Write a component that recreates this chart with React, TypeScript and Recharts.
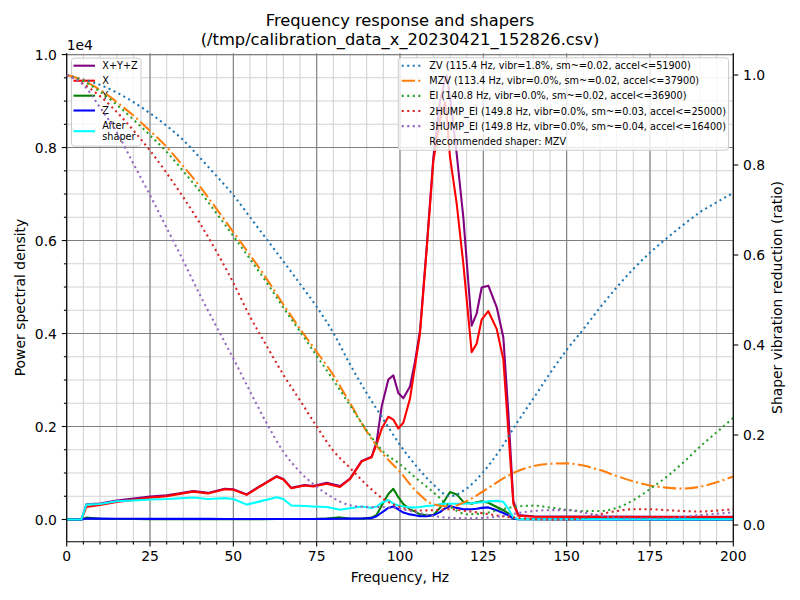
import React from 'react';
import { LineChart, Line, XAxis, YAxis, CartesianGrid } from 'recharts';

const FONT = '"DejaVu Sans", "Liberation Sans", sans-serif';

// ---------- PSD data (left axis, raw units; axis shows x1e4) ----------
const psdFreqs = [
  0, 4.4, 5.9, 10, 15, 20, 25, 30, 33, 38,
  42.4, 47.4, 50, 54, 58, 63, 65, 67.4, 71.4, 74,
  78, 82, 85, 88.5, 91.5, 93, 94.5, 96.5, 98, 99.5,
  101, 103, 104.5, 106, 108, 110, 112, 113.5, 114, 115,
  117, 119, 121.5, 123, 124.5, 126.5, 129, 131, 132.5, 134,
  135.5, 140, 160, 180, 200,
];
const psdXYZ = [
  0, 0, 325, 345, 410, 450, 495, 520, 555, 612,
  572, 662, 652, 540, 720, 930, 870, 680, 740, 720,
  790, 720, 880, 1260, 1350, 1680, 2430, 3010, 3100, 2720,
  2610, 2860, 3400, 4060, 5850, 7780, 9000, 9450, 9550, 9100,
  7870, 6500, 4170, 4430, 4990, 5030, 4570, 3920, 2300, 400,
  95, 70, 62, 58, 56,
];
const psdX = [
  0, 0, 270, 310, 375, 420, 470, 500, 540, 600,
  560, 650, 640, 530, 710, 920, 860, 670, 730, 710,
  770, 700, 870, 1250, 1340, 1620, 1950, 2210, 2150, 1960,
  2080, 2600, 3300, 4000, 5800, 7700, 8600, 8970, 8700, 7800,
  6800, 5500, 3600, 3780, 4300, 4480, 4100, 3450, 1900, 340,
  80, 60, 55, 52, 50,
];
const psdY = [
  0, 0, 40, 15, 10, 10, 8, 8, 8, 8,
  8, 8, 8, 8, 8, 10, 10, 10, 10, 12,
  20, 45, 20, 15, 40, 100, 300, 550, 660, 480,
  330, 220, 170, 110, 90, 90, 250, 420, 480, 590,
  540, 380, 340, 370, 390, 360, 270, 200, 130, 20,
  8, 5, 4, 3, 3,
];
const psdZ = [
  0, 0, 20, 18, 16, 15, 14, 14, 13, 13,
  13, 12, 12, 12, 12, 12, 12, 12, 12, 12,
  14, 16, 18, 20, 30, 70, 150, 250, 280, 220,
  150, 110, 90, 70, 70, 90, 160, 240, 250, 290,
  250, 220, 220, 230, 250, 260, 200, 140, 90, 20,
  6, 4, 3, 3, 3,
];
const psdAfter = [
  0, 0, 320, 335, 392, 410, 432, 440, 452, 475,
  440, 460, 440, 320, 390, 480, 440, 300, 290, 280,
  270, 210, 240, 280, 250, 280, 360, 420, 340, 300,
  280, 260, 260, 270, 290, 300, 330, 340, 340, 340,
  340, 340, 350, 360, 370, 390, 400, 380, 230, 45,
  8, 5, 5, 5, 5,
];

// ---------- Shaper vibration reduction ratios (right axis) ----------
const shaperFreqs = [
  0, 5, 10, 15, 20, 25, 30, 35, 40, 45, 50, 55, 60, 65, 70, 75, 80, 85, 90, 95,
  100, 105, 110, 115, 120, 125, 130, 135, 140, 145, 150, 155, 160, 165, 170, 175, 180, 185, 190, 195, 200,
];
const zvVals = [
  1.0, 0.99, 0.978, 0.961, 0.94, 0.915, 0.887, 0.855, 0.816, 0.775, 0.733, 0.684, 0.635, 0.586, 0.536, 0.485, 0.427, 0.357, 0.293, 0.235,
  0.178, 0.13, 0.09, 0.064, 0.081, 0.118, 0.167, 0.226, 0.281, 0.337, 0.389, 0.435, 0.483, 0.528, 0.569, 0.605, 0.637, 0.667, 0.695, 0.717, 0.738,
];
const mzvVals = [
  1.0, 0.988, 0.967, 0.94, 0.91, 0.876, 0.84, 0.797, 0.752, 0.702, 0.651, 0.6, 0.547, 0.49, 0.436, 0.385, 0.333, 0.271, 0.208, 0.157,
  0.118, 0.074, 0.046, 0.041, 0.053, 0.075, 0.099, 0.119, 0.131, 0.136, 0.137, 0.132, 0.122, 0.109, 0.097, 0.088, 0.083, 0.081, 0.085, 0.095, 0.108,
];
const eiVals = [
  1.0, 0.986, 0.963, 0.934, 0.901, 0.866, 0.829, 0.786, 0.741, 0.692, 0.642, 0.591, 0.539, 0.483, 0.43, 0.376, 0.322, 0.266, 0.21, 0.163,
  0.135, 0.103, 0.073, 0.041, 0.024, 0.026, 0.034, 0.041, 0.043, 0.039, 0.034, 0.031, 0.031, 0.038, 0.055, 0.08, 0.107, 0.139, 0.174, 0.206, 0.238,
];
const hump2Vals = [
  1.0, 0.98, 0.953, 0.918, 0.877, 0.832, 0.782, 0.728, 0.67, 0.607, 0.538, 0.463, 0.398, 0.334, 0.277, 0.219, 0.165, 0.127, 0.089, 0.058,
  0.04, 0.032, 0.033, 0.035, 0.031, 0.026, 0.02, 0.016, 0.013, 0.012, 0.012, 0.016, 0.024, 0.031, 0.035, 0.035, 0.033, 0.031, 0.03, 0.032, 0.035,
];
const hump3Vals = [
  1.0, 0.978, 0.928, 0.873, 0.803, 0.733, 0.66, 0.587, 0.511, 0.44, 0.37, 0.297, 0.226, 0.163, 0.118, 0.085, 0.06, 0.044, 0.04, 0.04,
  0.036, 0.028, 0.02, 0.016, 0.015, 0.016, 0.019, 0.026, 0.031, 0.033, 0.033, 0.028, 0.021, 0.016, 0.015, 0.015, 0.015, 0.018, 0.022, 0.025, 0.028,
];

// ---------- Ticks ----------
const xMajorTicks = [0, 25, 50, 75, 100, 125, 150, 175, 200];
const xAllTicks = Array.from({ length: 41 }, (_, i) => i * 5);
const psdMajorTicks = [0, 2000, 4000, 6000, 8000, 10000];
const psdAllTicks = Array.from({ length: 21 }, (_, i) => i * 500);
const ratioTicks = [0, 0.2, 0.4, 0.6, 0.8, 1.0];

const X_DOMAIN: [number, number] = [0, 200];
const PSD_DOMAIN: [number, number] = [-477.5, 10027.5];
const RATIO_DOMAIN: [number, number] = [-0.0371, 1.0482];

// ---------- Texts ----------
const titleLine1 = 'Frequency response and shapers';
const titleLine2 = '(/tmp/calibration_data_x_20230421_152826.csv)';
const psdLegend = [
  { label: ['X+Y+Z'], color: 'purple' },
  { label: ['X'], color: 'red' },
  { label: ['Y'], color: 'green' },
  { label: ['Z'], color: 'blue' },
  { label: ['After', 'shaper'], color: 'cyan' },
];
const shaperLegend = [
  { label: 'ZV (115.4 Hz, vibr=1.8%, sm~=0.02, accel<=51900)', color: '#1f77b4', dash: '2.08 3.44' },
  { label: 'MZV (113.4 Hz, vibr=0.0%, sm~=0.02, accel<=37900)', color: '#ff7f0e', dash: '13.3 3.33 2.08 3.33' },
  { label: 'EI (140.8 Hz, vibr=0.0%, sm~=0.02, accel<=36900)', color: '#2ca02c', dash: '2.08 3.44' },
  { label: '2HUMP_EI (149.8 Hz, vibr=0.0%, sm~=0.03, accel<=25000)', color: '#d62728', dash: '2.08 3.44' },
  { label: '3HUMP_EI (149.8 Hz, vibr=0.0%, sm~=0.04, accel<=16400)', color: '#9467bd', dash: '2.08 3.44' },
];
const recommendedText = 'Recommended shaper: MZV';

const psdTable = psdFreqs.map((f, i) => ({
  f,
  xyz: psdXYZ[i],
  x: psdX[i],
  y: psdY[i],
  z: psdZ[i],
  after: psdAfter[i],
}));
const shaperTable = shaperFreqs.map((f, i) => ({
  f,
  zv: zvVals[i],
  mzv: mzvVals[i],
  ei: eiVals[i],
  hump2: hump2Vals[i],
  hump3: hump3Vals[i],
}));

const LW = 2.08;
const TICK_FS = 13.9;

const BottomTick = (props: any) => {
  const { x, y, payload } = props;
  const v = payload.value as number;
  const major = xMajorTicks.includes(v);
  return (
    <g>
      <line x1={x} x2={x} y1={y} y2={y + (major ? 4.9 : 2.8)} stroke="#000" strokeWidth={1.1} />
      {major ? (
        <text x={x} y={y + 19.6} textAnchor="middle" fontSize={TICK_FS} fill="#000" fontFamily={FONT}>
          {v}
        </text>
      ) : null}
    </g>
  );
};

const LeftTick = (props: any) => {
  const { x, y, payload } = props;
  const v = payload.value as number;
  const major = psdMajorTicks.includes(v);
  return (
    <g>
      <line x1={x - (major ? 4.9 : 2.8)} x2={x} y1={y} y2={y} stroke="#000" strokeWidth={1.1} />
      {major ? (
        <text x={x - 9.8} y={y + 5} textAnchor="end" fontSize={TICK_FS} fill="#000" fontFamily={FONT}>
          {(v / 10000).toFixed(1)}
        </text>
      ) : null}
    </g>
  );
};

const RightTick = (props: any) => {
  const { x, y, payload } = props;
  const v = payload.value as number;
  return (
    <g>
      <line x1={x} x2={x + 4.9} y1={y} y2={y} stroke="#000" strokeWidth={1.1} />
      <text x={x + 9.8} y={y + 5} textAnchor="start" fontSize={TICK_FS} fill="#000" fontFamily={FONT}>
        {v.toFixed(1)}
      </text>
    </g>
  );
};

const layer: React.CSSProperties = { position: 'absolute', left: 0, top: 0 };

export default function App() {
  return (
    <div style={{ position: 'absolute', left: 0, top: 0, width: 800, height: 600, background: '#fff', fontFamily: FONT, overflow: 'hidden' }}>
      {/* PSD axes (left) */}
      <div style={layer}>
        <LineChart width={800} height={600} data={psdTable} margin={{ top: 53.3, right: 66.7, bottom: 18.3, left: 6.7 }}>
          <CartesianGrid stroke="#d3d3d3" strokeWidth={1.1} horizontalValues={psdAllTicks} verticalValues={xAllTicks} />
          <CartesianGrid stroke="#808080" strokeWidth={1.1} horizontalValues={psdMajorTicks} verticalValues={xMajorTicks} />
          <XAxis
            dataKey="f"
            type="number"
            domain={X_DOMAIN}
            allowDataOverflow
            ticks={xAllTicks}
            interval={0}
            height={40}
            tickSize={0}
            tickMargin={0}
            tickLine={false}
            tick={<BottomTick />}
            axisLine={{ stroke: '#000', strokeWidth: 1.1 }}
          />
          <XAxis
            xAxisId="top"
            orientation="top"
            dataKey="f"
            type="number"
            domain={X_DOMAIN}
            allowDataOverflow
            height={0}
            tick={false}
            tickLine={false}
            axisLine={{ stroke: '#000', strokeWidth: 1.1 }}
          />
          <YAxis
            type="number"
            domain={PSD_DOMAIN}
            allowDataOverflow
            ticks={psdAllTicks}
            interval={0}
            width={60}
            tickSize={0}
            tickMargin={0}
            tickLine={false}
            tick={<LeftTick />}
            axisLine={{ stroke: '#000', strokeWidth: 1.1 }}
          />
          <Line dataKey="xyz" type="linear" stroke="purple" strokeWidth={LW} strokeLinejoin="round" dot={false} activeDot={false} isAnimationActive={false} />
          <Line dataKey="x" type="linear" stroke="red" strokeWidth={LW} strokeLinejoin="round" dot={false} activeDot={false} isAnimationActive={false} />
          <Line dataKey="y" type="linear" stroke="green" strokeWidth={LW} strokeLinejoin="round" dot={false} activeDot={false} isAnimationActive={false} />
          <Line dataKey="z" type="linear" stroke="blue" strokeWidth={LW} strokeLinejoin="round" dot={false} activeDot={false} isAnimationActive={false} />
          <Line dataKey="after" type="linear" stroke="cyan" strokeWidth={LW} strokeLinejoin="round" dot={false} activeDot={false} isAnimationActive={false} />
        </LineChart>
      </div>

      {/* PSD legend (belongs to left axes, under the shaper curves) */}
      <svg width={800} height={600} style={{ ...layer, pointerEvents: 'none' }}>
        <rect x={71.5} y={58.1} width={69.5} height={88} rx={2.8} fill="#fff" fillOpacity={0.8} stroke="#cccccc" strokeWidth={1} />
        {psdLegend.map((item, i) => {
          const cy = [65.7, 80.7, 95.7, 110.5, 131.2][i];
          return (
            <g key={item.label.join(' ')}>
              <line x1={73.5} x2={95} y1={cy} y2={cy} stroke={item.color} strokeWidth={LW} />
              <text x={102.3} y={cy - (item.label.length - 1) * 5.5 + 3.5} fontSize={9.7} fill="#000" fontFamily={FONT}>
                {item.label.map((t, j) => (
                  <tspan key={t} x={102.3} dy={j === 0 ? 0 : 11}>
                    {t}
                  </tspan>
                ))}
              </text>
            </g>
          );
        })}
      </svg>

      {/* Shaper axes (right, twin) */}
      <div style={layer}>
        <LineChart width={800} height={600} data={shaperTable} margin={{ top: 53.3, right: 6.7, bottom: 58.3, left: 66.7 }}>
          <XAxis dataKey="f" type="number" domain={X_DOMAIN} allowDataOverflow hide />
          <YAxis
            orientation="right"
            type="number"
            domain={RATIO_DOMAIN}
            allowDataOverflow
            ticks={ratioTicks}
            interval={0}
            width={60}
            tickSize={0}
            tickMargin={0}
            tickLine={false}
            tick={<RightTick />}
            axisLine={{ stroke: '#000', strokeWidth: 1.1 }}
          />
          <Line dataKey="zv" type="monotone" stroke="#1f77b4" strokeWidth={LW} strokeDasharray="2.08 3.44" dot={false} activeDot={false} isAnimationActive={false} />
          <Line dataKey="mzv" type="monotone" stroke="#ff7f0e" strokeWidth={LW} strokeDasharray="13.3 3.33 2.08 3.33" dot={false} activeDot={false} isAnimationActive={false} />
          <Line dataKey="ei" type="monotone" stroke="#2ca02c" strokeWidth={LW} strokeDasharray="2.08 3.44" dot={false} activeDot={false} isAnimationActive={false} />
          <Line dataKey="hump2" type="monotone" stroke="#d62728" strokeWidth={LW} strokeDasharray="2.08 3.44" dot={false} activeDot={false} isAnimationActive={false} />
          <Line dataKey="hump3" type="monotone" stroke="#9467bd" strokeWidth={LW} strokeDasharray="2.08 3.44" dot={false} activeDot={false} isAnimationActive={false} />
        </LineChart>
      </div>

      {/* Shaper legend, titles and axis labels */}
      <svg width={800} height={600} style={{ ...layer, pointerEvents: 'none' }} fontFamily={FONT}>
        <rect x={398.3} y={57.8} width={330.2} height={92.4} rx={2.8} fill="#fff" fillOpacity={0.8} stroke="#cccccc" strokeWidth={1} />
        {shaperLegend.map((item, i) => {
          const cy = 65.7 + i * 15.1;
          return (
            <g key={item.label}>
              <line x1={401.7} x2={421.7} y1={cy} y2={cy} stroke={item.color} strokeWidth={LW} strokeDasharray={item.dash} />
              <text x={429.3} y={cy + 3.5} fontSize={9.7} fill="#000">
                {item.label}
              </text>
            </g>
          );
        })}
        <text x={429.3} y={65.7 + 5 * 15.1 + 3.5} fontSize={9.7} fill="#000">
          {recommendedText}
        </text>

        <text x={400} y={26.3} textAnchor="middle" fontSize={16.3} fill="#000">
          {titleLine1}
        </text>
        <text x={400} y={45} textAnchor="middle" fontSize={16.3} fill="#000">
          {titleLine2}
        </text>
        <text x={66.7} y={50} fontSize={TICK_FS} fill="#000">
          1e4
        </text>
        <text x={400} y={582} textAnchor="middle" fontSize={TICK_FS} fill="#000">
          Frequency, Hz
        </text>
        <text x={25} y={297.5} textAnchor="middle" fontSize={TICK_FS} fill="#000" transform="rotate(-90 25 297.5)">
          Power spectral density
        </text>
        <text x={781.8} y={297.5} textAnchor="middle" fontSize={TICK_FS} fill="#000" transform="rotate(-90 781.8 297.5)">
          Shaper vibration reduction (ratio)
        </text>
      </svg>
    </div>
  );
}
